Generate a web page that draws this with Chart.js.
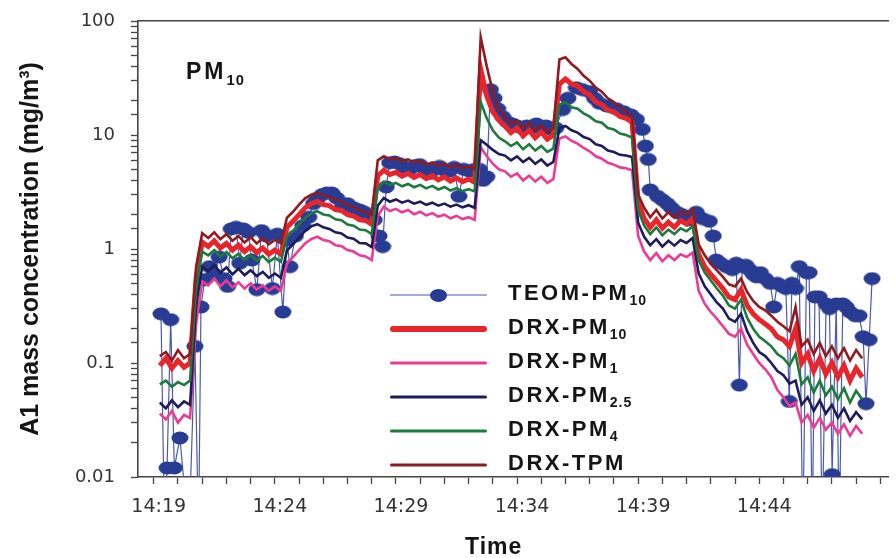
<!DOCTYPE html>
<html>
<head>
<meta charset="utf-8">
<script src="https://cdn.jsdelivr.net/npm/chart.js@4.4.1/dist/chart.umd.min.js"></script>
<style>
	html, body { margin: 0; padding: 0; background: #fff; }
	#wrap { position: relative; width: 896px; height: 558px; }
	.note { position: absolute; font-family: 'Liberation Sans', Arial, sans-serif; font-weight: bold; color: #151515; white-space: nowrap; }
	.note sub { font-size: 0.64em; vertical-align: -0.38em; line-height: 0; letter-spacing: 1px; }
	#pmLabel { left: 186px; top: 58px; font-size: 23px; letter-spacing: 3px; }
	#timeLabel { left: 465px; top: 535px; font-size: 23px; line-height: 23px; letter-spacing: 1px; }
	#legend { position: absolute; left: 390px; top: 278px; width: 320px; }
	.row { position: relative; height: 34px; }
	.swatch { position: absolute; left: 0; top: 17px; width: 97px; transform: translateY(-50%); }
	.dot { position: absolute; left: 40px; top: 50%; width: 17px; height: 13px; border-radius: 50%; transform: translateY(-50%); }
	.row .note { left: 118px; top: 4px; font-size: 22px; line-height: 22px; letter-spacing: 2.5px; }
</style>
</head>
<body>
<div id="wrap">
	<canvas id="chart"></canvas>
	<div id="pmLabel" class="note">PM<sub>10</sub></div>
	<div id="timeLabel" class="note">Time</div>
	<div id="legend"></div>
</div>
<script>
// minutes after 14:00
const drxTimes = [19.25,19.5,19.75,20,20.25,20.5,20.75,21,21.25,21.5,21.75,22,22.25,22.5,22.75,23,23.25,23.5,23.75,24,24.25,
	24.5,24.75,25,25.25,25.5,25.75,26,26.25,26.5,26.75,27,27.25,27.5,27.75,28,28.25,28.5,28.75,29,29.25,29.5,29.75,30,30.25,
	30.5,30.75,31,31.25,31.5,31.75,32,32.25,32.5,32.75,33,33.25,33.5,33.75,34,34.25,34.5,34.75,35,35.25,35.5,35.75,36,36.25,
	36.5,36.75,37,37.25,37.5,37.75,38,38.25,38.5,38.75,39,39.25,39.5,39.75,40,40.25,40.5,40.75,41,41.25,41.5,41.75,42,42.25,
	42.5,42.75,43,43.25,43.5,43.75,44,44.25,44.5,44.75,45,45.25,45.5,45.75,46,46.25,46.5,46.75,47,47.25,47.5,47.75,48,48.25];

const drxPm10 = [0.095,0.11,0.09,0.105,0.092,0.1, 0.55,
	1.15,1.05,1.18,1.02,1.12,0.98,1.08,0.95,1.05,0.93,1.02,0.9,0.98,0.9,
	1.55,1.75,2.0,2.3,2.5,2.62,2.45,2.4,2.22,2.18,2.0,1.95,1.8,1.78,1.65, 4.4,
	4.9,4.5,4.7,4.35,4.6,4.25,4.5,4.15,4.4,4.05,4.3,3.95,4.2,3.9,4.1,3.85,
	38,22,16,13.5,12,10.5,11.5,9.8,11,9.5,10.6,9.2,10, 28,
	31,28,27,24,22.5,19.5,18.5,16.5,16,14.5,14,13, 2.6,
	1.85,1.55,1.8,1.52,1.72,1.55,1.78,1.65,1.85,
	0.9,0.7,0.6,0.52,0.45,0.38,0.36,0.44,0.32,0.27,0.24,0.22,0.2,0.17,0.16,0.14,0.2,0.1,0.12,0.085,
	0.11,0.08,0.1,0.075,0.095,0.07,0.09,0.075];

const drxTpm = [0.115,0.125,0.105,0.13,0.11,0.12, 0.7,
	1.38,1.25,1.4,1.22,1.35,1.18,1.3,1.14,1.27,1.12,1.24,1.1,1.2,1.12,
	1.88,2.12,2.45,2.78,3.0,3.12,2.95,2.88,2.68,2.62,2.42,2.35,2.18,2.12,2.0, 6.0,
	6.5,6.1,6.3,5.9,6.1,5.7,5.9,5.5,5.75,5.35,5.6,5.2,5.45,5.1,5.3,5.0,
	72,40,24,17,14.5,12.5,13.5,11.5,12.8,11,12.2,10.6,11.5, 46,
	48,42,38,33,30,26,24,21,19.5,17.5,16,14.5, 3.0,
	2.3,1.9,2.2,1.85,2.1,1.88,2.15,2.0,2.25,
	1.1,0.88,0.74,0.65,0.57,0.49,0.47,0.55,0.42,0.35,0.31,0.29,0.26,0.23,0.21,0.19,0.31,0.14,0.16,0.12,
	0.15,0.115,0.14,0.11,0.135,0.105,0.13,0.11];

const drxPm4 = [0.065,0.07,0.062,0.068,0.064,0.07, 0.45,
	0.95,0.88,0.98,0.86,0.94,0.83,0.91,0.8,0.89,0.79,0.87,0.77,0.84,0.77,
	1.28,1.44,1.65,1.88,2.05,2.15,2.01,1.97,1.82,1.79,1.64,1.6,1.48,1.46,1.35, 3.4,
	3.9,3.65,3.8,3.55,3.72,3.48,3.65,3.4,3.58,3.33,3.5,3.26,3.42,3.22,3.35,3.2,
	19.5,14,11,9.5,8.8,8,8.6,7.5,8.3,7.3,8,7.1,7.6, 18.5,
	19.5,17.5,17,15.5,14.5,13.2,12.8,11.5,11.2,10.3,10,9.5, 2.2,
	1.6,1.35,1.55,1.32,1.48,1.35,1.52,1.43,1.58,
	0.8,0.62,0.53,0.45,0.39,0.32,0.3,0.36,0.25,0.2,0.17,0.155,0.14,0.12,0.11,0.095,0.12,0.065,0.075,0.055,
	0.07,0.052,0.062,0.048,0.06,0.045,0.057,0.048];

const drxPm25 = [0.045,0.04,0.047,0.041,0.046,0.043, 0.32,
	0.7,0.64,0.72,0.62,0.69,0.6,0.67,0.59,0.65,0.58,0.63,0.56,0.61,0.56,
	0.97,1.1,1.26,1.44,1.58,1.65,1.55,1.5,1.4,1.37,1.26,1.23,1.13,1.12,1.04, 2.4,
	2.8,2.6,2.72,2.55,2.66,2.5,2.6,2.44,2.55,2.4,2.5,2.35,2.45,2.32,2.42,2.3,
	9,8.2,7.4,6.8,6.6,6,6.5,5.8,6.3,5.6,6.1,5.4,5.8, 11.5,
	12,11,10.5,9.6,9.2,8.3,8,7.3,7.1,6.7,6.6,6.4, 1.7,
	1.28,1.08,1.22,1.05,1.18,1.07,1.2,1.13,1.25,
	0.61,0.47,0.4,0.34,0.3,0.245,0.23,0.27,0.19,0.15,0.125,0.115,0.1,0.085,0.078,0.066,0.07,0.043,0.05,0.038,
	0.047,0.036,0.043,0.033,0.04,0.031,0.037,0.032];

const drxPm1 = [0.036,0.032,0.038,0.03,0.035,0.033, 0.22,
	0.52,0.48,0.55,0.47,0.53,0.46,0.51,0.45,0.5,0.44,0.48,0.43,0.47,0.43,
	0.75,0.85,0.98,1.12,1.22,1.28,1.2,1.17,1.08,1.06,0.98,0.95,0.88,0.86,0.8, 1.95,
	2.35,2.15,2.25,2.1,2.2,2.02,2.12,1.97,2.06,1.92,2.0,1.86,1.95,1.83,1.9,1.8,
	7.8,6.5,5.6,5,4.8,4.3,4.6,4,4.4,3.9,4.3,3.8,4.1, 9.3,
	9.7,8.9,8.4,7.7,7.2,6.5,6.2,5.7,5.5,5.2,5.1,4.9, 1.3,
	0.95,0.8,0.92,0.78,0.88,0.8,0.9,0.85,0.93,
	0.43,0.33,0.28,0.245,0.21,0.18,0.17,0.2,0.145,0.12,0.1,0.088,0.075,0.058,0.05,0.042,0.045,0.03,0.035,0.027,
	0.033,0.026,0.03,0.024,0.029,0.023,0.028,0.024];

// TEOM readings; values under 0.01 fall below the axis
const teomTimes = [19.3,19.45,19.55,19.7,19.85,20.08,20.45,20.7,20.85,20.95,
	21.1,21.3,21.5,21.7,21.9,22.05,22.2,22.4,22.55,22.7,22.9,23.05,23.26,23.45,23.65,23.9,24.1,24.33,24.5,24.62,
	24.85,25.15,25.4,25.6,25.73,25.95,26.15,26.35,26.55,26.8,27.0,27.25,27.5,27.7,27.92,28.1,28.3,28.45,28.6,28.74,
	28.95,29.15,29.35,29.57,29.78,29.98,30.2,30.4,30.6,30.8,31.0,31.2,31.4,31.6,31.8,32.05,32.25,32.45,32.6,32.75,
	32.9,33.05,33.2,33.4,33.6,33.8,34.0,34.2,34.4,34.6,34.8,35.0,35.2,35.4,35.6,35.88,36.1,36.45,36.7,36.99,
	37.2,37.4,37.7,38.1,38.4,38.7,38.93,39.17,39.3,39.42,39.5,39.8,40.0,40.2,40.37,40.6,40.82,41.1,41.4,41.65,
	41.94,42.1,42.23,42.4,42.64,42.89,43.05,43.18,43.3,43.45,43.6,43.75,43.88,44.05,44.25,44.45,44.6,44.75,44.95,45.1,
	45.24,45.35,45.5,45.65,45.8,45.95,46.06,46.19,46.3,46.47,46.6,46.76,46.9,47.01,47.18,47.3,47.45,47.59,47.75,47.96,
	48.12,48.29,48.41,48.54,48.66];
const teomValues = [0.27,0.003,0.012,0.24,0.012,0.022,0.003,0.14,0.003,0.31,
	0.54,0.7,0.6,0.85,0.55,0.47,1.5,1.55,0.75,1.5,1.4,0.8,0.44,1.45,1.3,0.45,1.35,0.28,1.2,0.7,
	1.3,1.6,1.9,2.5,2.7,3.0,3.1,3.1,2.8,2.4,2.5,2.3,2.2,2.1,1.9,1.8,1.3,1.05,3.5,5.7,
	5.8,5.6,5.2,5.0,5.4,5.5,5.0,4.6,5.1,5.3,4.9,4.8,5.2,2.9,5.0,4.8,5.0,5.0,4.0,4.3,
	25,21,17,14.5,13,12.5,12,11.5,12,11.5,12.5,11.8,12,11.2,11.5,16.7,21,26,25,24,
	21,19,18,17,16,15,13.7,11.2,8.0,6.1,3.3,2.9,2.7,2.5,2.3,2.1,2.0,1.8,2.1,1.85,
	1.75,1.3,0.8,0.75,0.7,0.66,0.75,0.064,0.7,0.72,0.66,0.6,0.57,0.62,0.55,0.5,0.31,0.5,0.47,0.45,
	0.046,0.5,0.45,0.7,0.003,0.62,0.62,0.003,0.38,0.38,0.003,0.33,0.3,0.0105,0.33,0.003,0.33,0.31,0.28,0.26,
	0.26,0.17,0.044,0.16,0.55];

const xMinorTicks = [19,20,21,22,23,24,25,26,27,28,29,30,31,32,33,34,35,36,37,38,39,40,41,42,43,44,45,46,47,48,49];
const xLabelMinutes = [19, 24, 29, 34, 39, 44];
const xTickLabels = ['14:19', '14:24', '14:29', '14:34', '14:39', '14:44'];
const yTickLabels = ['0.01', '0.1', '1', '10', '100'];

const seriesNames = ['TEOM-PM<sub>10</sub>', 'DRX-PM<sub>10</sub>', 'DRX-PM<sub>1</sub>', 'DRX-PM<sub>2.5</sub>', 'DRX-PM<sub>4</sub>', 'DRX-TPM'];

(function () {
	const cTeom = '#283c93';
	const cTeomLine = '#4a59ad';
	const cPm10 = '#e9252c';
	const cPm1 = '#ec3b95';
	const cPm25 = '#1f1c5c';
	const cPm4 = '#1c7a3c';
	const cTpm = '#8f1b20';
	const axisColor = '#444';

	// elliptical marker, as in the original plot
	const dot = document.createElement('canvas');
	dot.width = 18; dot.height = 14;
	const dctx = dot.getContext('2d');
	dctx.fillStyle = cTeom;
	dctx.beginPath(); dctx.ellipse(9, 7, 8.5, 6.5, 0, 0, 2 * Math.PI); dctx.fill();

	const pts = (xs, ys) => xs.map((t, i) => ({ x: t, y: ys[i] }));
	const drxLine = (label, data, color, w) => ({
		label, data: pts(drxTimes, data), borderColor: color, backgroundColor: color,
		borderWidth: w, pointRadius: 0, tension: 0, fill: false
	});

	new Chart(document.getElementById('chart'), {
		type: 'line',
		data: {
			datasets: [
				drxLine('DRX-TPM', drxTpm, cTpm, 2.6),
				drxLine('DRX-PM4', drxPm4, cPm4, 2.6),
				drxLine('DRX-PM2.5', drxPm25, cPm25, 2.6),
				drxLine('DRX-PM1', drxPm1, cPm1, 2.6),
				drxLine('DRX-PM10', drxPm10, cPm10, 5),
				{
					label: 'TEOM-PM10', data: pts(teomTimes, teomValues),
					borderColor: cTeomLine, backgroundColor: cTeom, borderWidth: 1.2,
					pointStyle: dot, pointRadius: 6, tension: 0, fill: false
				}
			]
		},
		options: {
			responsive: true, maintainAspectRatio: false, animation: false,
			layout: { padding: { top: 21, left: 0, right: 0, bottom: 0 } },
			plugins: { legend: { display: false }, tooltip: { enabled: false } },
			scales: {
				x: {
					type: 'linear', position: 'bottom', min: 18.35, max: 49.35,
					afterBuildTicks: s => { s.ticks = xMinorTicks.map(v => ({ value: v })); },
					afterFit: s => { s.height = 81; s.paddingLeft = 0; s.paddingRight = 0; },
					ticks: {
						autoSkip: false, maxRotation: 0, padding: 12, labelOffset: 5, color: '#333',
						font: { family: 'DejaVu Sans', size: 19 },
						callback: v => { const i = xLabelMinutes.indexOf(v); return i < 0 ? '' : xTickLabels[i]; }
					},
					grid: { drawOnChartArea: false, tickLength: 7, tickColor: axisColor, tickWidth: 1.3 },
					border: { color: axisColor, width: 1.6 }
				},
				xTop: {
					type: 'linear', position: 'top', min: 0, max: 1,
					afterFit: s => { s.height = 0; s.paddingLeft = 0; s.paddingRight = 0; },
					ticks: { display: false },
					grid: { drawOnChartArea: false, drawTicks: false },
					border: { color: axisColor, width: 1.6 }
				},
				y: {
					type: 'logarithmic', position: 'left', min: 0.01, max: 100,
					afterFit: s => { s.width = 138; s.paddingTop = 0; s.paddingBottom = 0; },
					ticks: {
						autoSkip: false, padding: 16, color: '#333',
						font: { family: 'DejaVu Sans', size: 18 },
						callback: v => {
							const e = Math.log10(v);
							return Math.abs(e - Math.round(e)) < 1e-6 ? yTickLabels[Math.round(e) + 2] : '';
						}
					},
					grid: { drawOnChartArea: false, tickLength: 7, tickColor: axisColor, tickWidth: 1.3 },
					border: { color: axisColor, width: 1.6 },
					title: {
						display: true, text: 'A1 mass concentration (mg/m³)', color: '#151515',
						padding: { top: 19, bottom: 0 },
						font: { family: 'Liberation Sans', size: 25, weight: 'bold', lineHeight: 1 }
					}
				}
			}
		}
	});

	// legend, built in html so the subscripts render
	const swatches = [
		{ color: cTeomLine, w: 1.2, dot: true },
		{ color: cPm10, w: 6 },
		{ color: cPm1, w: 3 },
		{ color: cPm25, w: 3 },
		{ color: cPm4, w: 3 },
		{ color: cTpm, w: 3 }
	];
	const lg = document.getElementById('legend');
	swatches.forEach((s, i) => {
		const row = document.createElement('div');
		row.className = 'row';
		const sw = document.createElement('div');
		sw.className = 'swatch';
		sw.style.height = s.w + 'px';
		sw.style.background = s.color;
		sw.style.borderRadius = (s.w / 2) + 'px';
		if (s.dot) {
			const d = document.createElement('div');
			d.className = 'dot';
			d.style.background = cTeom;
			sw.appendChild(d);
		}
		const txt = document.createElement('div');
		txt.className = 'note';
		txt.innerHTML = seriesNames[i];
		row.appendChild(sw);
		row.appendChild(txt);
		lg.appendChild(row);
	});
})();
</script>
</body>
</html>
